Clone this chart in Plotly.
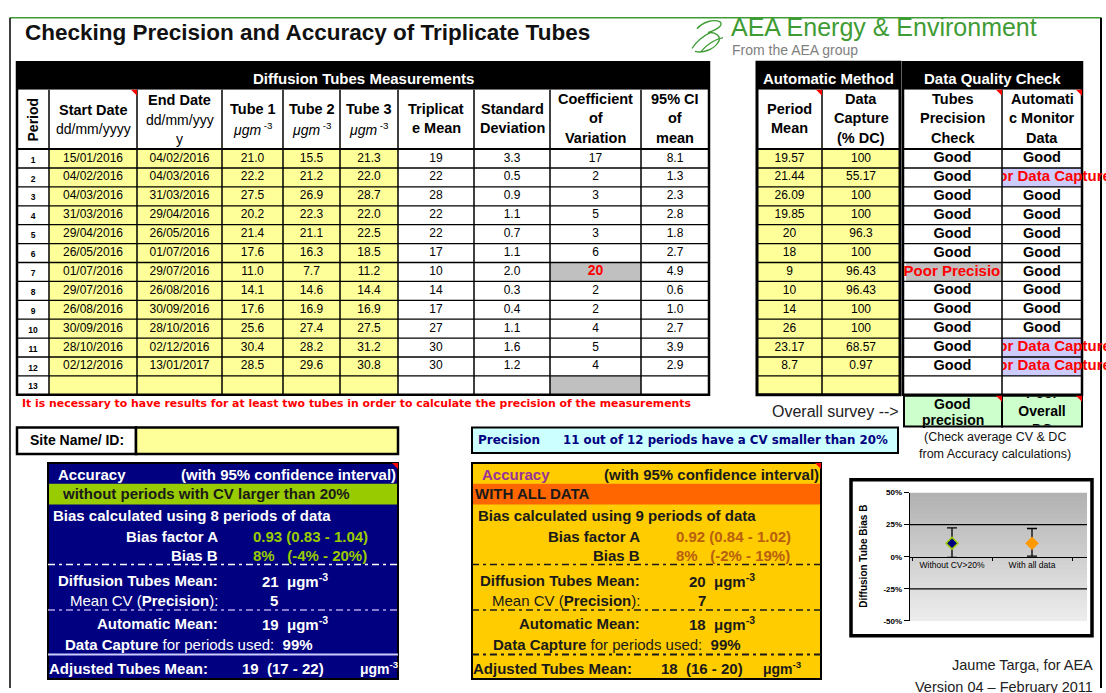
import plotly.graph_objects as go

W, H = 1106, 693
ARIAL = "Arial, Liberation Sans, Helvetica, sans-serif"
DEJAVU = "DejaVu Sans, Verdana, sans-serif"

# ---------------- data ----------------
periods = [str(i) for i in range(1, 14)]
start_dates = ["15/01/2016", "04/02/2016", "04/03/2016", "31/03/2016", "29/04/2016", "26/05/2016",
               "01/07/2016", "29/07/2016", "26/08/2016", "30/09/2016", "28/10/2016", "02/12/2016"]
end_dates = ["04/02/2016", "04/03/2016", "31/03/2016", "29/04/2016", "26/05/2016", "01/07/2016",
             "29/07/2016", "26/08/2016", "30/09/2016", "28/10/2016", "02/12/2016", "13/01/2017"]
tube1 = [21.0, 22.2, 27.5, 20.2, 21.4, 17.6, 11.0, 14.1, 17.6, 25.6, 30.4, 28.5]
tube2 = [15.5, 21.2, 26.9, 22.3, 21.1, 16.3, 7.7, 14.6, 16.9, 27.4, 28.2, 29.6]
tube3 = [21.3, 22.0, 28.7, 22.0, 22.5, 18.5, 11.2, 14.4, 16.9, 27.5, 31.2, 30.8]
triplicate_mean = [19, 22, 28, 22, 22, 17, 10, 14, 17, 27, 30, 30]
std_dev = [3.3, 0.5, 0.9, 1.1, 0.7, 1.1, 2.0, 0.3, 0.4, 1.1, 1.6, 1.2]
coef_var = [17, 2, 3, 5, 3, 6, 20, 2, 2, 4, 5, 4]
ci95 = [8.1, 1.3, 2.3, 2.8, 1.8, 2.7, 4.9, 0.6, 1.0, 2.7, 3.9, 2.9]
auto_mean = ["19.57", "21.44", "26.09", "19.85", "20", "18", "9", "10", "14", "26", "23.17", "8.7"]
data_capture = ["100", "55.17", "100", "100", "96.3", "100", "96.43", "96.43", "100", "100", "68.57", "0.97"]
tube_check = ["Good"] * 6 + ["Poor Precision"] + ["Good"] * 5
auto_check = ["Good", "Poor Data Capture", "Good", "Good", "Good", "Good", "Good", "Good", "Good",
              "Good", "Poor Data Capture", "Poor Data Capture"]
cv_limit = 20

bias_categories = ["Without CV>20%", "With all data"]
bias_b = [10.5, 10.5]
bias_upper = [22.5, 22.0]
bias_lower = [-0.5, 0.5]
bias_ticks = [-50, -25, 0, 25, 50]

# ---------------- colours ----------------
YELLOW, GRAY, LAVENDER = "#FFFF99", "#C0C0C0", "#CCCCFF"
NAVY, LIME, GOLD, ORANGE = "#000080", "#99CC00", "#FFCC00", "#FF6600"
MINT, CYAN, LOGO_GREEN, DARK = "#CCFFCC", "#CCFFFF", "#3f9c35", "#1a1a1a"

# ---------------- geometry ----------------
TX = [17, 49, 137, 222, 283, 340, 398, 474, 550, 641, 709]
AX = [757, 822, 900]
QX = [903, 1002, 1082]
BAR_T, HDR_T, ROW_T, RH, NROWS = 59, 87, 147, 19.15, 13
ROW_B = ROW_T + NROWS * RH


def ry(i):
    return ROW_T + i * RH


def rc(i):
    return ROW_T + (i + 0.5) * RH


def mid(a, b):
    return (a + b) / 2


fig = go.Figure()
shapes, annots = [], []
extra_axes = {}


def rect(x0, y0, x1, y1, fill=None, lc=None, lw=1.0, layer="below", xref="x", yref="y"):
    shapes.append(dict(type="rect", xref=xref, yref=yref, x0=x0, y0=y0, x1=x1, y1=y1, layer=layer,
                       fillcolor=fill or "rgba(0,0,0,0)",
                       line=dict(color=lc or "rgba(0,0,0,0)", width=lw if lc else 0)))


def seg(x0, y0, x1, y1, color="black", lw=1.5, dash="solid", layer="below", xref="x", yref="y"):
    shapes.append(dict(type="line", xref=xref, yref=yref, x0=x0, y0=y0, x1=x1, y1=y1, layer=layer,
                       line=dict(color=color, width=lw, dash=dash)))


def path(p, color, lw=1.5, fill=None, layer="below"):
    shapes.append(dict(type="path", xref="x", yref="y", path=p, layer=layer,
                       fillcolor=fill or "rgba(0,0,0,0)",
                       line=dict(color=color, width=lw)))


def tri(x, y, s=6):
    shapes.append(dict(type="path", xref="x", yref="y", layer="above",
                       path=f"M {x - s},{y} L {x},{y} L {x},{y + s} Z",
                       fillcolor="#FF0000", line=dict(width=0)))


def txt(x, y, s, size=14, color="black", bold=False, anchor="center", family=ARIAL, angle=0):
    annots.append(dict(x=x, y=y, xref="x", yref="y", text=s, showarrow=False, xanchor=anchor,
                       yanchor="middle", textangle=angle, borderpad=0, borderwidth=0,
                       font=dict(family=family, size=size, color=color,
                                 weight="bold" if bold else "normal")))


def col_text(cx, ys, texts, size=12, color="black", bold=False, family=ARIAL, xaxis="x", yaxis="y"):
    fig.add_trace(go.Scatter(x=[cx] * len(texts), y=ys, text=texts, mode="text",
                             textposition="middle center",
                             textfont=dict(family=family, size=size, color=color,
                                           weight="bold" if bold else "normal"),
                             hoverinfo="skip", showlegend=False, cliponaxis=(xaxis != "x"),
                             xaxis=xaxis, yaxis=yaxis))


clip_n = [3]


def clip_axes(x0, y0, x1, y1):
    n = clip_n[0]
    clip_n[0] += 1
    extra_axes[f"xaxis{n}"] = dict(domain=[x0 / W, x1 / W], range=[x0, x1], visible=False,
                                   fixedrange=True, anchor=f"y{n}")
    extra_axes[f"yaxis{n}"] = dict(domain=[1 - y1 / H, 1 - y0 / H], range=[y1, y0], visible=False,
                                   fixedrange=True, anchor=f"x{n}")
    return f"x{n}", f"y{n}"


# ---------------- page frame, title, logo ----------------
seg(10, 14, 1101, 14, color=LOGO_GREEN, lw=1.5)
seg(10, 14, 10, H + 2, lw=1.5)
seg(1101, 14, 1101, H + 2, lw=2)
txt(25, 29, "Checking Precision and Accuracy of Triplicate Tubes", 22.5, "#111111", True, "left")
txt(731, 23, "AEA Energy &amp; Environment", 25, LOGO_GREEN, False, "left")
txt(732, 47, "From the AEA group", 14, "#808080", False, "left")
path("M 697,25 C 703,18 714,15 720,18 C 724,22 716,26 708,29", LOGO_GREEN, 1.4)
path("M 708,29 C 716,28 722,33 718,39 C 714,46 703,50 695,48", LOGO_GREEN, 1.4)
path("M 692,45 C 697,37 704,32 712,28", LOGO_GREEN, 1.2)
path("M 701,48 C 707,41 714,36 723,34", LOGO_GREEN, 1.2)

# ---------------- main table ----------------
rect(TX[0], BAR_T, TX[-1], HDR_T, fill="black")
rect(TX[0], HDR_T, TX[-1], ROW_B, fill="white")
rect(TX[1], ROW_T, TX[6], ROW_B, fill=YELLOW)
for i, v in enumerate(coef_var):
    if v >= cv_limit:
        rect(TX[8], ry(i), TX[9], ry(i + 1), fill=GRAY)
rect(TX[8], ry(NROWS - 1), TX[9], ry(NROWS), fill=GRAY)
for i in range(1, NROWS):
    seg(TX[0], ry(i), TX[-1], ry(i), lw=1.3)
seg(TX[0], ROW_T, TX[-1], ROW_T, lw=2)
for x in TX[1:-1]:
    seg(x, HDR_T, x, ROW_B, lw=1.5)
rect(TX[0], BAR_T, TX[-1], ROW_B, lc="black", lw=2.5)
tri(TX[2], HDR_T)

txt(mid(TX[0], TX[-1]), 75, "Diffusion Tubes Measurements", 15, "white", True)
txt(mid(TX[0], TX[1]), 117, "Period", 14, "black", True, angle=-90)
txt(mid(TX[1], TX[2]), 107, "Start Date", 14.5, "black", True)
txt(mid(TX[1], TX[2]), 127, "dd/mm/yyyy", 14, "black")
txt(mid(TX[2], TX[3]), 97, "End Date", 14.5, "black", True)
txt(mid(TX[2], TX[3]), 118, "dd/mm/yyy", 14, "black")
txt(mid(TX[2], TX[3]), 137, "y", 14, "black")
for k in range(3):
    c = mid(TX[3 + k], TX[4 + k])
    txt(c, 106, f"Tube {k + 1}", 14.5, "black", True)
    txt(c, 127, "<i>μgm</i><sup> -3</sup>", 14, "black")
for col, lines, y0 in [(6, ["Triplicat", "e Mean"], 106), (7, ["Standard", "Deviation"], 106),
                       (8, ["Coefficient", "of", "Variation"], 96), (9, ["95% CI", "of", "mean"], 96)]:
    for j, s in enumerate(lines):
        txt(mid(TX[col], TX[col + 1]), y0 + 20 * j, s, 14.5, "black", True)

rows12 = [rc(i) for i in range(12)]
col_text(mid(TX[0], TX[1]), [rc(i) + 2 for i in range(NROWS)], periods, 8.5, bold=True)
col_text(mid(TX[1], TX[2]), rows12, start_dates)
col_text(mid(TX[2], TX[3]), rows12, end_dates)
col_text(mid(TX[3], TX[4]), rows12, [f"{v:.1f}" for v in tube1])
col_text(mid(TX[4], TX[5]), rows12, [f"{v:.1f}" for v in tube2])
col_text(mid(TX[5], TX[6]), rows12, [f"{v:.1f}" for v in tube3])
col_text(mid(TX[6], TX[7]), rows12, [f"{v}" for v in triplicate_mean])
col_text(mid(TX[7], TX[8]), rows12, [f"{v:.1f}" for v in std_dev])
ok_cv = [i for i, v in enumerate(coef_var) if v < cv_limit]
bad_cv = [i for i, v in enumerate(coef_var) if v >= cv_limit]
col_text(mid(TX[8], TX[9]), [rc(i) for i in ok_cv], [str(coef_var[i]) for i in ok_cv])
col_text(mid(TX[8], TX[9]), [rc(i) for i in bad_cv], [str(coef_var[i]) for i in bad_cv], 14,
         "#FF0000", True)
col_text(mid(TX[9], TX[10]), rows12, [f"{v:.1f}" for v in ci95])

txt(22, 405, "It is necessary to have results for at least two tubes in order to calculate the "
             "precision of the measurements", 10.9, "#FF0000", True, "left", DEJAVU)

# ---------------- automatic method table ----------------
rect(AX[0], BAR_T, AX[-1], HDR_T, fill="black")
rect(AX[0], HDR_T, AX[-1], ROW_T, fill="white")
rect(AX[0], ROW_T, AX[-1], ROW_B, fill=YELLOW)
for i in range(1, NROWS):
    seg(AX[0], ry(i), AX[-1], ry(i), lw=1.3)
seg(AX[0], ROW_T, AX[-1], ROW_T, lw=2)
seg(AX[1], HDR_T, AX[1], ROW_B, lw=1.5)
rect(AX[0], BAR_T, AX[-1], ROW_B, lc="black", lw=3)
tri(AX[1], HDR_T)
txt(mid(AX[0], AX[-1]), 75, "Automatic Method", 15, "white", True)
txt(mid(AX[0], AX[1]), 106, "Period", 14.5, "black", True)
txt(mid(AX[0], AX[1]), 126, "Mean", 14.5, "black", True)
for j, s in enumerate(["Data", "Capture", "(% DC)"]):
    txt(mid(AX[1], AX[2]), 96 + 20 * j, s, 14.5, "black", True)
col_text(mid(AX[0], AX[1]), rows12, auto_mean)
col_text(mid(AX[1], AX[2]), rows12, data_capture)

# ---------------- data quality check table ----------------
rect(QX[0], BAR_T, QX[-1], HDR_T, fill="black")
rect(QX[0], HDR_T, QX[-1], ROW_B, fill="white")
for i, v in enumerate(tube_check):
    if v != "Good":
        rect(QX[0] + 3, ry(i), QX[1], ry(i + 1), fill=GRAY)
for i, v in enumerate(auto_check):
    if v != "Good":
        rect(QX[1], ry(i), QX[2], ry(i + 1), fill=LAVENDER)
for i in range(1, NROWS):
    seg(QX[0], ry(i), QX[-1], ry(i), lw=1.3)
seg(QX[0], ROW_T, QX[-1], ROW_T, lw=2)
seg(QX[1], HDR_T, QX[1], ROW_B, lw=1.5)
rect(QX[0], BAR_T, QX[-1], ROW_B, lc="black", lw=2.5)
tri(QX[1], HDR_T)
tri(QX[2], HDR_T)
txt(mid(QX[0], QX[-1]), 75, "Data Quality Check", 15, "white", True)
for j, s in enumerate(["Tubes", "Precision", "Check"]):
    txt(mid(QX[0], QX[1]), 96 + 20 * j, s, 14.5, "black", True)
for j, s in enumerate(["Automati", "c Monitor", "Data"]):
    txt(mid(QX[1], QX[2]), 96 + 20 * j, s, 14.5, "black", True)

g1 = [i for i, v in enumerate(tube_check) if v == "Good"]
b1 = [i for i, v in enumerate(tube_check) if v != "Good"]
g2 = [i for i, v in enumerate(auto_check) if v == "Good"]
b2 = [i for i, v in enumerate(auto_check) if v != "Good"]
col_text(mid(QX[0], QX[1]), [rc(i) for i in g1], [tube_check[i] for i in g1], 14.5, bold=True)
col_text(mid(QX[1], QX[2]), [rc(i) for i in g2], [auto_check[i] for i in g2], 14.5, bold=True)
xa, ya = clip_axes(880, ROW_T, QX[1] - 1, ROW_B)
col_text(mid(QX[0], QX[1]) + 4, [rc(i) for i in b1], [tube_check[i] for i in b1], 15, "#FF0000",
         True, xaxis=xa, yaxis=ya)
xa, ya = clip_axes(QX[1] + 1, ROW_T, W, ROW_B)
col_text(mid(QX[1], QX[2]) + 3, [rc(i) for i in b2], [auto_check[i] for i in b2], 15, "#FF0000",
         True, xaxis=xa, yaxis=ya)

# overall survey
OV_T, OV_B = 397, 428
txt(772, 413, "Overall survey -->", 16, "#222222", False, "left")
rect(QX[0] + 1, OV_T, QX[1], OV_B, fill=MINT, lc="black", lw=2)
rect(QX[1], OV_T, QX[2], OV_B, fill=MINT, lc="black", lw=2)
tri(QX[1], OV_T)
tri(QX[2], OV_T)
txt(mid(QX[0], QX[1]), 405, "Good", 14, "black", True)
txt(mid(QX[0], QX[1]), 421, "precision", 14, "black", True)
xa, ya = clip_axes(QX[1] + 1, OV_T + 1, QX[2] - 1, OV_B - 1)
col_text(mid(QX[1], QX[2]), [396, 414, 432], ["Poor", "Overall", "DC"], 14, "black", True,
         xaxis=xa, yaxis=ya)
txt(995, 439, "(Check average CV &amp; DC", 12.5, "#111111")
txt(995, 456, "from Accuracy calculations)", 12.5, "#111111")

# ---------------- site name and precision boxes ----------------
rect(17, 429, 136, 456, fill="white", lc="black", lw=2.5)
rect(136, 429, 398, 456, fill=YELLOW, lc="black", lw=2.5)
txt(mid(17, 136), 442, "Site Name/ ID:", 14, "black", True)

n_ok = sum(1 for v in coef_var if v < cv_limit)
rect(472, 429, 898, 455, fill=CYAN, lc="black", lw=2)
txt(478, 442, "Precision", 12, NAVY, True, "left", DEJAVU)
txt(563, 442, f"{n_ok} out of {len(coef_var)} periods have a CV smaller than {cv_limit}%", 11.8,
    NAVY, True, "left", DEJAVU)

NB = "\u00a0"
DASH = "7px,4px,3px,4px"


def accuracy_box(x0, x1, fill, band, band_text, head_col, txt_col, val_col, lines_col, n_periods,
                 bias_a, bias_bb, tube_mean, mean_cv, auto_m, adj, lab_r, val_x, xs):
    rect(x0, 465, x1, 684, fill=fill, lc="black", lw=2)
    rect(x0 + 1, 486, x1 - 1, 507, fill=band)
    seg(x0, 568, x1, 568, color=lines_col[0], lw=1.5, dash=DASH)
    seg(x0, 614, x1, 614, color=lines_col[1], lw=1.5, dash=DASH)
    seg(x0, 659, x1, 659, color=lines_col[2], lw=2, dash=lines_col[3])
    tri(x1, 465)
    txt(x0 + 10, 477, "Accuracy", 15, head_col, True, "left")
    txt(x1 - 2, 477, "(with 95% confidence interval)", 15, txt_col, True, "right")
    txt(xs[0], 496, band_text, 15, DARK, True, "left")
    txt(xs[1], 518, f"Bias calculated using {n_periods} periods of data", 15, txt_col, True, "left")
    txt(lab_r, 539, "Bias factor A", 15, txt_col, True, "right")
    txt(val_x, 539, bias_a, 15, val_col, True, "left")
    txt(lab_r, 559, "Bias B", 15, txt_col, True, "right")
    txt(val_x, 559, bias_bb, 15, val_col, True, "left")
    txt(lab_r, 584, "Diffusion Tubes Mean:", 15, txt_col, True, "right")
    txt(xs[2], 584, f"{tube_mean}{NB}{NB}μgm<sup>-3</sup>", 15, txt_col, True, "left")
    txt(lab_r, 604, "Mean CV (<b>Precision</b>):", 15, txt_col, False, "right")
    txt(xs[3], 604, f"{mean_cv}", 15, txt_col, True, "left")
    txt(lab_r, 628, "Automatic Mean:", 15, txt_col, True, "right")
    txt(xs[2], 628, f"{auto_m}{NB}{NB}μgm<sup>-3</sup>", 15, txt_col, True, "left")
    txt(xs[4], 649, f"<b>Data Capture</b> for periods used:{NB}{NB}<b>99%</b>", 15, txt_col, False,
        "left")
    txt(x0 + 1, 673, "Adjusted Tubes Mean:", 15, txt_col, True, "left")
    txt(xs[5], 673, adj, 15, txt_col, True, "left")
    txt(xs[6], 673, "μgm<sup>-3</sup>", 14, txt_col, True, "left")


accuracy_box(48, 398, NAVY, LIME, "without periods with CV larger than 20%", "white", "white", LIME,
             ("white", "#B8A2E8", LAVENDER, "solid"), 8, "0.93 (0.83 - 1.04)",
             f"8%{NB}{NB}{NB}(-4% - 20%)", 21, 5, 19, f"19{NB}{NB}(17 - 22)", 218, 253,
             [62, 53, 262, 270, 65, 242, 360])
accuracy_box(472, 821, GOLD, ORANGE, "WITH ALL DATA", "#993399", DARK, "#B8600F",
             (DARK, DARK, DARK, DASH), 9, "0.92 (0.84 - 1.02)",
             f"8%{NB}{NB}{NB}(-2% - 19%)", 20, 7, 18, f"18{NB}{NB}(16 - 20)", 640, 676,
             [475, 478, 689, 698, 493, 661, 763])

# ---------------- small bias chart ----------------
rect(851, 482, 1092, 640, fill="white", lc="black", lw=3.5)
PX0, PX1, PY0, PY1 = 910, 1087, 495, 625
XR = [-0.525, 1.6875]
n_strips = 30
span = bias_ticks[-1] - bias_ticks[0]
for k in range(n_strips):
    f = k / (n_strips - 1)
    g = int(178 + (236 - 178) * f)
    ya0 = bias_ticks[-1] - span * k / n_strips
    ya1 = bias_ticks[-1] - span * (k + 1.6) / n_strips
    ya1 = max(ya1, bias_ticks[0])
    rect(XR[0], ya0, XR[1], ya1, fill=f"rgb({g},{g},{g})", xref="x2", yref="y2")
for t in bias_ticks[1:-1]:
    if t != 0:
        seg(XR[0], t, XR[1], t, color="black", lw=1.2, xref="x2", yref="y2")

for i, (col, size, lc, lw) in enumerate([(NAVY, 9, LIME, 1.5), ("#FF9900", 10, "#FF9900", 0.5)]):
    fig.add_trace(go.Scatter(
        x=[bias_categories[i]], y=[bias_b[i]], mode="markers",
        marker=dict(symbol="diamond", size=size, color=col, line=dict(color=lc, width=lw)),
        error_y=dict(type="data", array=[bias_upper[i] - bias_b[i]],
                     arrayminus=[bias_b[i] - bias_lower[i]], color="black", thickness=1.3, width=5),
        xaxis="x2", yaxis="y2", hoverinfo="skip", showlegend=False))

txt(864, 560, "Diffusion Tube Bias B", 10, "black", True, angle=-90)
txt(1093, 670, "Jaume Targa, for AEA", 14.5, "#222222", False, "right")
txt(1093, 692, "Version 04 – February 2011", 14.5, "#222222", False, "right")

layout = dict(
    width=W, height=H, margin=dict(l=0, r=0, t=0, b=0, pad=0),
    paper_bgcolor="white", plot_bgcolor="rgba(0,0,0,0)", showlegend=False,
    xaxis=dict(domain=[0, 1], range=[0, W], visible=False, fixedrange=True),
    yaxis=dict(domain=[0, 1], range=[H, 0], visible=False, fixedrange=True),
    xaxis2=dict(domain=[PX0 / W, PX1 / W], type="category", categoryorder="array",
                categoryarray=bias_categories, range=XR, anchor="free", position=1 - 560 / H,
                showline=True, linecolor="black", linewidth=1.3, ticks="outside", ticklen=3,
                tickcolor="black", tickson="boundaries", showgrid=False, zeroline=False,
                tickfont=dict(family=ARIAL, size=8.5, color="black"), fixedrange=True),
    yaxis2=dict(domain=[1 - PY1 / H, 1 - PY0 / H], range=[bias_ticks[0], bias_ticks[-1]],
                anchor="x2", tickvals=bias_ticks, ticktext=[f"{t}%" for t in bias_ticks],
                showline=True, linecolor="black", linewidth=1.3, ticks="outside", ticklen=5,
                tickcolor="black", showgrid=False, zeroline=False,
                tickfont=dict(family=ARIAL, size=8, color="black", weight="bold"),
                fixedrange=True),
    shapes=shapes, annotations=annots,
)
layout.update(extra_axes)
fig.update_layout(**layout)

fig.write_html("out.html", config={"displayModeBar": False, "staticPlot": True},
               post_script="document.body.style.margin='0';document.body.style.overflow='hidden';")
